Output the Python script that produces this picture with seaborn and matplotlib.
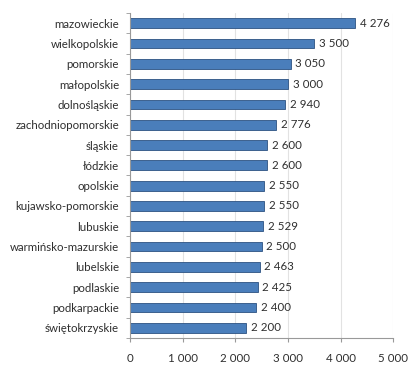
import matplotlib
matplotlib.use('Agg')
import matplotlib.pyplot as plt
import seaborn as sns
import pandas as pd
from matplotlib.ticker import FuncFormatter

regions = ['mazowieckie', 'wielkopolskie', 'pomorskie', 'małopolskie', 'dolnośląskie',
           'zachodniopomorskie', 'śląskie', 'łódzkie', 'opolskie', 'kujawsko-pomorskie',
           'lubuskie', 'warmińsko-mazurskie', 'lubelskie', 'podlaskie', 'podkarpackie',
           'świętokrzyskie']
values = [4276, 3500, 3050, 3000, 2940, 2776, 2600, 2600, 2550, 2550,
          2529, 2500, 2463, 2425, 2400, 2200]
xticks = [0, 1000, 2000, 3000, 4000, 5000]

def fmt(v):
    # space as thousands separator
    return f'{int(v):,}'.replace(',', ' ')

df = pd.DataFrame({'region': regions, 'value': values})

sns.set_style('white')
plt.rcParams['font.family'] = ['Lato', 'DejaVu Sans']

fig = plt.figure(figsize=(4.2, 3.71), dpi=100)
ax = fig.add_axes([0.31, 0.089, 0.626, 0.876])

sns.barplot(data=df, x='value', y='region', orient='h', color='#4a7ebb',
            edgecolor='#2c5282', linewidth=0.6, width=0.48, saturation=1, ax=ax)

for i, v in enumerate(values):
    ax.text(v + 90, i, fmt(v), va='center', ha='left', fontsize=8.3, color='#2e2e2e')

ax.set_xlim(0, 5000)
ax.set_xticks(xticks)
ax.xaxis.set_major_formatter(FuncFormatter(lambda v, p: fmt(v)))
ax.set_xlabel('')
ax.set_ylabel('')
ax.grid(axis='x', color='#e2e2e2', linewidth=0.8)
ax.set_axisbelow(True)
for s in ['top', 'right']:
    ax.spines[s].set_visible(False)
ax.spines['left'].set_color('#999999')
ax.spines['bottom'].set_color('#999999')
ax.spines['left'].set_linewidth(0.8)
ax.spines['bottom'].set_linewidth(0.8)
ax.tick_params(axis='x', labelsize=8.3, colors='#2e2e2e', length=3, color='#999999', pad=8, bottom=True)
ax.tick_params(axis='y', labelsize=8.3, colors='#2e2e2e', length=0, pad=8)
ax.set_yticks([i - 0.5 for i in range(len(regions) + 1)], minor=True)
ax.tick_params(axis='y', which='minor', length=3, color='#999999', left=True)

fig.savefig('out.png', dpi=100)
